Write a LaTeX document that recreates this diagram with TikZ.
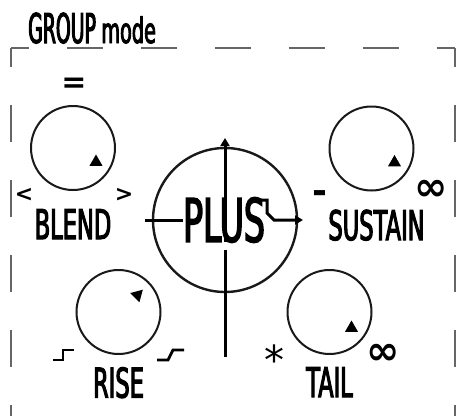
\documentclass[tikz,border=0pt]{standalone}
\usepackage{fontspec}
\usepackage{tikz}
\usetikzlibrary{arrows.meta,shapes.geometric,positioning}
\newfontfamily\gmfont[FakeStretch=0.55, FakeBold=2.5]{DejaVu Sans}
\newfontfamily\gmtitlefont[FakeStretch=0.46, FakeBold=2.5]{DejaVu Sans}
\newfontfamily\gmsymfont{DejaVu Sans}
\tikzset{
  gmframeh/.style={line width=1.5pt, draw=black!60, dash pattern=on 36.5pt off 37.5pt, dash phase=18.5pt},
  gmframev/.style={line width=1.5pt, draw=black!60, dash pattern=on 37pt off 38pt, dash phase=18.5pt},
  gmknob/.style={circle, draw=black!90, line width=2pt, minimum size=84pt, inner sep=0pt},
  gmring/.style={circle, draw=black!90, line width=2.4pt, minimum size=144pt, inner sep=0pt},
  gmmark/.style={regular polygon, regular polygon sides=3, fill=black, inner sep=0pt, minimum size=15pt},
  gmlabel/.style={inner sep=0pt, font=\gmfont\fontsize{41}{41}\selectfont},
  gmsym/.style={inner sep=0pt, font=\gmsymfont\bfseries\fontsize{22}{22}\selectfont},
  gmbig/.style={inner sep=0pt, font=\gmsymfont\bfseries\fontsize{40}{40}\selectfont},
  gmstep/.style={line width=2.8pt, draw=black, line cap=butt, line join=miter},
  gmaxis/.style={line width=3pt, draw=black},
  gmtip/.style={-{Triangle[length=8pt,width=9pt]}},
}
\begin{document}
\begin{tikzpicture}[x=1pt,y=-1pt]
\useasboundingbox (0,0) rectangle (456,416);
% title and frame
\node[inner sep=0pt, anchor=base west, font=\gmtitlefont\fontsize{41}{41}\selectfont] (group) at (28,43) {GROUP};
\node[inner sep=0pt, anchor=base west, font=\gmfont\fontsize{35}{35}\selectfont] (mode) at ([xshift=5pt]group.base east) {mode};
\draw[gmframeh] (11,48) -- (455,48);
\draw[gmframev] (11,48) -- (11,416);
\draw[gmframev] (455,48) -- (455,416);
% blend
\node[gmknob] (blend) at (73,148) {};
\node[gmmark] (blendmark) at ([shift={(23,14)}]blend.center) {};
\node[gmlabel, below=18pt of blend] (blendlbl) {BLEND};
\node[gmbig, font=\gmsymfont\bfseries\fontsize{30}{30}\selectfont] (blendtop) at (74,85) {=};
\node[gmsym] (blendmin) at (24,195) {<};
\node[gmsym] (blendmax) at (124,195) {>};
% sustain
\node[gmknob] (sustain) at (371.5,148.5) {};
\node[gmmark] (sustainmark) at ([shift={(23,14)}]sustain.center) {};
\node[gmlabel, below=18pt of sustain, xshift=5pt] (sustainlbl) {SUSTAIN};
\node[gmbig, font=\gmsymfont\bfseries\fontsize{36}{36}\selectfont] (sustainmin) at (319.5,197) {-};
\node[gmbig] (sustainmax) at (431,190) {∞};
% rise
\node[gmknob] (rise) at (118.5,312) {};
\node[gmmark, rotate=-45] (risemark) at ([shift={(19,-17)}]rise.center) {};
\node[gmlabel, below=12pt of rise] (riselbl) {RISE};
\draw[gmstep] (53,360) -- (63,360) -- (63,350) -- (74,350);
\draw[gmstep] (157,360) -- (168,360) -- (173,350) -- (184,350);
% tail
\node[gmknob] (tail) at (329.5,312) {};
\node[gmmark] (tailmark) at ([shift={(22,16)}]tail.center) {};
\node[gmlabel, below=12pt of tail] (taillbl) {TAIL};
\node[gmbig, font=\gmsymfont\fontsize{40}{40}\selectfont] (tailmin) at (274.5,360) {*};
\node[gmbig] (tailmax) at (383.5,354.5) {∞};
% plus
\node[gmring] (plus) at (225,220) {};
\node[inner sep=0pt, font=\gmfont\fontsize{60}{60}\selectfont] (plustext) at (224,220) {PLUS};
\coordinate (pltop) at (225,138);
\coordinate (plbot) at (225,357);
\coordinate (plleft) at (145,220);
\coordinate (plright) at (303,220);
\coordinate (plhook) at (259,200);
\draw[gmaxis, gmtip] (plustext.base -| pltop) -- (pltop);
\draw[gmaxis] ([yshift=-8pt]plustext.base -| pltop) -- (plbot);
\draw[gmaxis] (plleft) -- (plustext.west |- plleft);
\draw[gmaxis, gmtip] (plhook) -- ++(8,0) -- ++(0,13) -- ++(7,7) -- (plright);
\end{tikzpicture}
\end{document}
